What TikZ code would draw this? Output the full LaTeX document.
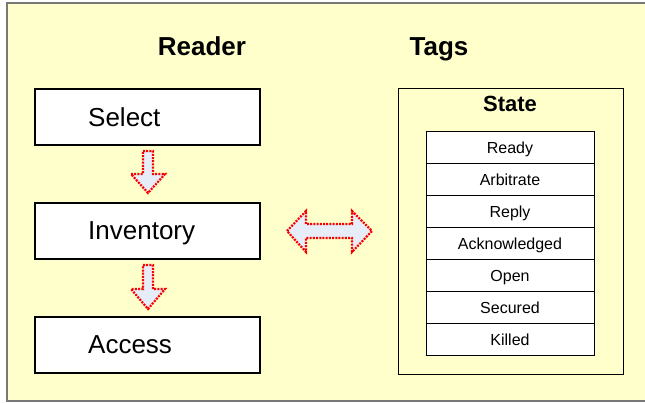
\documentclass[tikz,border=0pt]{standalone}
\usepackage{fontspec}
\setmainfont{Liberation Sans}
\definecolor{bgyellow}{RGB}{255,255,204}
\definecolor{framegray}{RGB}{120,120,120}
\definecolor{arrowfill}{RGB}{230,236,248}
\definecolor{arrowred}{RGB}{250,0,0}
\begin{document}
\begin{tikzpicture}[x=1pt,y=-1pt,
  stepbox/.style={draw=black,line width=1.3pt,fill=white},
  rowbox/.style={draw=black,line width=1pt,fill=white},
  blockarrow/.style={draw=arrowred,line width=2.2pt,dash pattern=on 2pt off 1.2pt,fill=arrowfill,line join=miter},
  boxtext/.style={inner sep=0pt,anchor=base west,font=\fontsize{26}{30}\selectfont},
  headtext/.style={inner sep=0pt,anchor=base,font=\fontsize{26}{30}\selectfont\bfseries},
  rowtext/.style={inner sep=0pt,anchor=base,font=\fontsize{16}{18}\selectfont}]
\useasboundingbox (0,0) rectangle (645,402);
% background frame
\fill[white] (0,0) rectangle (645,402);
\draw[framegray,line width=1.5pt,fill=bgyellow] (7,3) rectangle (660,401);
% headings
\node[headtext] (reader) at (202,55) {Reader};
\node[headtext] (tags) at (439,55) {Tags};
% reader boxes
\draw[stepbox] (35,89) rectangle (260,145);
\coordinate (selectbox) at (147.5,117);
\node[boxtext] (select) at (88,126) {Select};
\draw[stepbox] (35,203) rectangle (260,259);
\coordinate (invbox) at (147.5,231);
\node[boxtext] (inventory) at (88,239) {Inventory};
\draw[stepbox] (35,317) rectangle (260,373);
\coordinate (accbox) at (147.5,345);
\node[boxtext] (access) at (88,353) {Access};
% down arrows
\path[blockarrow] (143,151) -- (153,151) -- (153,174) -- (165,174) -- (148,193) -- (131,174) -- (143,174) -- cycle;
\path[blockarrow] (143,265) -- (153,265) -- (153,289) -- (165,289) -- (148,309) -- (131,289) -- (143,289) -- cycle;
% double arrow
\path[blockarrow] (287,231) -- (306,211) -- (306,224) -- (352,224) -- (352,211) -- (372,231) -- (352,252) -- (352,238) -- (306,238) -- (306,252) -- cycle;
% state frame
\draw[black,line width=1pt] (398,88) rectangle (623,374);
\node[inner sep=0pt,anchor=base,font=\fontsize{22}{26}\selectfont\bfseries] (state) at (510,111) {State};
% rows
\foreach \lbl [count=\i from 0] in {Ready,Arbitrate,Reply,Acknowledged,Open,Secured,Killed}{
  \pgfmathsetmacro{\ytop}{131+\i*32.14}
  \pgfmathsetmacro{\ybot}{131+(\i+1)*32.14}
  \pgfmathsetmacro{\ymid}{131+(\i+0.5)*32.14+6}
  \draw[rowbox] (426,\ytop) rectangle (594,\ybot);
  \node[rowtext] (row\i) at (510,\ymid) {\lbl};
}
\end{tikzpicture}
\end{document}
